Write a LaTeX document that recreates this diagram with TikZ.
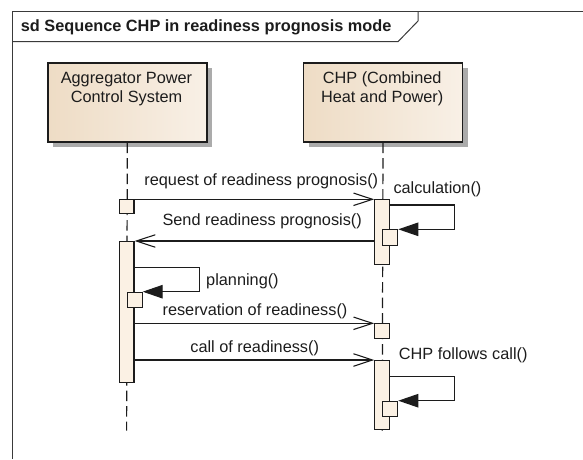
\documentclass[tikz,border=0pt]{standalone}
\usepackage{fontspec}
\setmainfont{Liberation Sans}
\usetikzlibrary{arrows.meta,shadows}

\definecolor{ink}{HTML}{1C1C1C}
\definecolor{framegray}{HTML}{3A3A3A}
\definecolor{boxleft}{HTML}{EEDCC5}
\definecolor{boxright}{HTML}{F8F0E6}
\definecolor{actfill}{HTML}{FBF1E4}
\definecolor{shadowgray}{HTML}{ABABAB}

\begin{document}
\begin{tikzpicture}[x=1pt,y=-1pt,
  txt/.style={font=\fontsize{16.3}{19.5}\selectfont, text=ink, inner sep=0pt},
  lbl/.style={txt, anchor=base},
  lblw/.style={txt, anchor=base west},
  head/.style={draw=ink, line width=1.6pt, left color=boxleft, right color=boxright,
    inner sep=0pt, minimum width=159pt, minimum height=79pt, anchor=north west,
    drop shadow={shadow xshift=5pt, shadow yshift=-5pt, fill=shadowgray, opacity=1}},
  lifeline/.style={draw=ink, line width=1.2pt, dash pattern=on 10.5pt off 5pt},
  act/.style={draw=ink, fill=actfill, line width=1.1pt, inner sep=0pt,
    minimum width=14.8pt, anchor=north},
  selfbox/.style={draw=ink, fill=actfill, line width=1.1pt, inner sep=0pt,
    minimum width=15pt, minimum height=15.6pt, anchor=north west},
  msg/.style={draw=ink, line width=1.1pt,
    -{Straight Barb[length=19pt,width=12.5pt,line width=1.1pt]}},
  selfmsg/.style={draw=ink, line width=1.1pt, line join=miter,
    -{Triangle[length=20pt,width=13.5pt]}},
  framestyle/.style={draw=framegray, line width=1pt}
]
\useasboundingbox (0,0) rectangle (583,459);

% diagram frame and its name tab
\draw[framestyle] (12.3,459) -- (12.3,11.5) -- (583,11.5);
\draw[framestyle] (12.3,41.7) -- (398,41.7) -- (418,21) -- (418,11.5);
\node[txt, font=\fontsize{16.3}{19.5}\selectfont\bfseries, anchor=base west] (title)
  at (20.7,31) {sd Sequence CHP in readiness prognosis mode};

% lifeline heads
\node[head] (agg) at (47,62) {};
\node[lbl] (aggL1) at (126.5,83.3) {Aggregator Power};
\node[lbl] (aggL2) at (126.5,102.9) {Control System};

\node[head] (chp) at (302.7,62) {};
\node[lbl] (chpL1) at (382.2,83.3) {CHP (Combined};
\node[lbl] (chpL2) at (382.2,102.9) {Heat and Power)};

% lifelines
\coordinate (aggEnd) at (126.6,430.7);
\coordinate (chpEnd) at (382.2,430.7);
\draw[lifeline] (agg.south) -- (aggEnd);
\draw[lifeline] (chp.south) -- (chpEnd);

% activations and execution boxes
\node[act, minimum height=13.4pt] (a1) at (126.6,199.3) {};
\node[act, minimum height=141.3pt] (a2) at (126.6,241) {};
\node[selfbox] (a3) at (126.6,291.7) {};

\node[act, minimum height=65pt] (c1) at (382.2,199.3) {};
\node[selfbox] (c2) at (382.2,229.3) {};
\node[act, minimum height=14.7pt] (c3) at (382.2,323.3) {};
\node[act, minimum height=69pt] (c4) at (382.2,360) {};
\node[selfbox] (c5) at (382.2,400.7) {};

% messages
\draw[msg] (a1.north east) -- (c1.north west);
\node[lbl] (m1) at (261.3,185) {request of readiness prognosis()};

\coordinate (calcR) at (454.7,205);
\draw[selfmsg] (c1.east |- calcR) -- (calcR) -- (calcR |- c2.north) -- (c2.north east);
\node[lblw] (m2) at (393.3,193.3) {calculation()};

\draw[msg] (c1.west |- a2.north) -- (a2.north east);
\node[lbl] (m3) at (262.2,225) {Send readiness prognosis()};

\coordinate (planR) at (199.3,267.7);
\draw[selfmsg] (a2.east |- planR) -- (planR) -- (planR |- a3.north) -- (a3.north east);
\node[lblw] (m4) at (206,285) {planning()};

\draw[msg] (a2.east |- c3.north) -- (c3.north west);
\node[lbl] (m5) at (255,315.5) {reservation of readiness()};

\draw[msg] (a2.east |- c4.north) -- (c4.north west);
\node[lbl] (m6) at (254.7,352.3) {call of readiness()};

\coordinate (followR) at (454.7,376.3);
\draw[selfmsg] (c4.east |- followR) -- (followR) -- (followR |- c5.north) -- (c5.north east);
\node[lblw] (m7) at (398.7,359.2) {CHP follows call()};
\end{tikzpicture}
\end{document}
